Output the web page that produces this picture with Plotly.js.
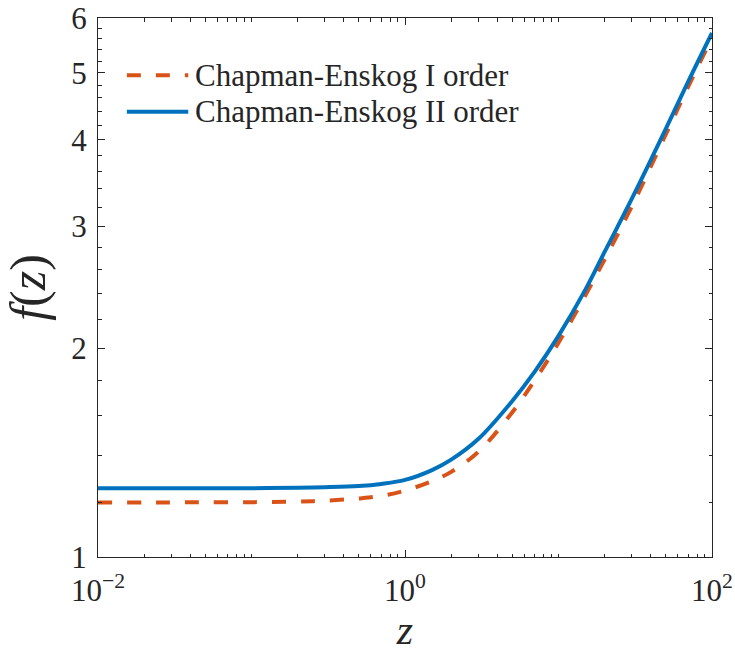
<!DOCTYPE html>
<html>
<head>
<meta charset="utf-8">
<script src="https://cdn.plot.ly/plotly-3.0.1.min.js"></script>
<style>
  html, body { margin: 0; padding: 0; background: #ffffff; }
  #chart { width: 735px; height: 653px; }
</style>
</head>
<body>
<div id="chart"></div>
<script>
// Sample points of f(z) for the two Chapman-Enskog approximations
const zValues = [0.01, 0.02, 0.03, 0.05, 0.1, 0.2, 0.3, 0.5, 0.7, 1, 1.5, 2, 3, 5, 7, 10, 15, 20, 30, 50, 70, 100];
const fFirstOrder = [1.199, 1.199, 1.199, 1.200, 1.200, 1.202, 1.206, 1.215, 1.225, 1.247, 1.287, 1.327, 1.418, 1.618, 1.799, 2.039, 2.388, 2.691, 3.206, 4.074, 4.775, 5.624];
const fSecondOrder = [1.257, 1.257, 1.257, 1.257, 1.257, 1.259, 1.261, 1.266, 1.275, 1.292, 1.335, 1.382, 1.480, 1.680, 1.852, 2.086, 2.434, 2.759, 3.288, 4.150, 4.858, 5.710];

const seriesNames = ['Chapman-Enskog I order', 'Chapman-Enskog II order'];
const seriesColors = ['#D95319', '#0072BD'];
const seriesDash = ['14px,15px', 'solid'];

// Axis ticks
const xTickVals = [0.01, 1, 100];
const xTickText = ['10<sup>\u22122</sup>', '10<sup>0</sup>', '10<sup>2</sup>'];
const xMinorVals = [0.02, 0.03, 0.04, 0.05, 0.06, 0.07, 0.08, 0.09, 0.1, 0.2, 0.3, 0.4, 0.5, 0.6, 0.7, 0.8, 0.9,
                    2, 3, 4, 5, 6, 7, 8, 9, 10, 20, 30, 40, 50, 60, 70, 80, 90];
const yTickVals = [1, 2, 3, 4, 5, 6];
const yMinorVals = [1.2, 1.4, 1.6, 1.8, 2.2, 2.4, 2.6, 2.8, 3.2, 3.4, 3.6, 3.8, 4.2, 4.4, 4.6, 4.8, 5.2, 5.4, 5.6, 5.8];

const ink = '#262626';
const serif = 'Liberation Serif, DejaVu Serif, serif';

const seriesY = [fFirstOrder, fSecondOrder];
const traces = seriesY.map((ys, i) => ({
  x: zValues, y: ys, name: seriesNames[i],
  type: 'scatter', mode: 'lines',
  line: { color: seriesColors[i], width: 4, dash: seriesDash[i], shape: 'spline', smoothing: 1 }
}));

// Legend box in the upper left: sample line plus label for each series
const legendX0 = 0.047, legendX1 = 0.147, legendTextX = 0.155;
const legendRows = [0.894, 0.826];
const legendShapes = seriesNames.map((_, i) => ({
  type: 'line', xref: 'paper', yref: 'paper',
  x0: legendX0, x1: legendX1, y0: legendRows[i], y1: legendRows[i],
  line: { color: seriesColors[i], width: 4, dash: seriesDash[i] }
}));
const legendLabels = seriesNames.map((name, i) => ({
  text: name, xref: 'paper', yref: 'paper',
  x: legendTextX, y: legendRows[i], xanchor: 'left', yanchor: 'middle',
  showarrow: false,
  font: { family: serif, size: 31, color: ink }
}));

const axisCommon = {
  type: 'log',
  showgrid: false,
  zeroline: false,
  showline: true,
  linecolor: ink,
  linewidth: 1,
  mirror: 'allticks',
  ticks: 'inside',
  ticklen: 7,
  tickwidth: 1,
  tickcolor: ink,
  tickmode: 'array',
  tickfont: { family: serif, size: 31, color: ink }
};

const layout = {
  width: 735,
  height: 653,
  paper_bgcolor: '#ffffff',
  plot_bgcolor: '#ffffff',
  margin: { l: 98, r: 23, t: 18, b: 96 },
  showlegend: false,
  shapes: legendShapes,
  annotations: legendLabels,
  xaxis: Object.assign({}, axisCommon, {
    range: [-2, 2],
    tickvals: xTickVals,
    ticktext: xTickText,
    ticklabelstandoff: 6,
    minor: { tickmode: 'array', tickvals: xMinorVals, ticks: 'inside', ticklen: 3.5, tickwidth: 1, tickcolor: ink, showgrid: false },
    title: { text: '<i>z</i>', font: { family: serif, size: 42, color: ink }, standoff: 20 },
    automargin: false
  }),
  yaxis: Object.assign({}, axisCommon, {
    range: [0, Math.log10(6)],
    tickvals: yTickVals,
    ticktext: yTickVals.map(String),
    ticklabelstandoff: 4,
    minor: { tickmode: 'array', tickvals: yMinorVals, ticks: 'inside', ticklen: 3.5, tickwidth: 1, tickcolor: ink, showgrid: false },
    title: { text: '<i>f</i>(<i>z</i>)', font: { family: serif, size: 50, color: ink }, standoff: 10 },
    automargin: false
  })
};

Plotly.newPlot('chart', traces, layout, { displayModeBar: false, staticPlot: true });
</script>
</body>
</html>
